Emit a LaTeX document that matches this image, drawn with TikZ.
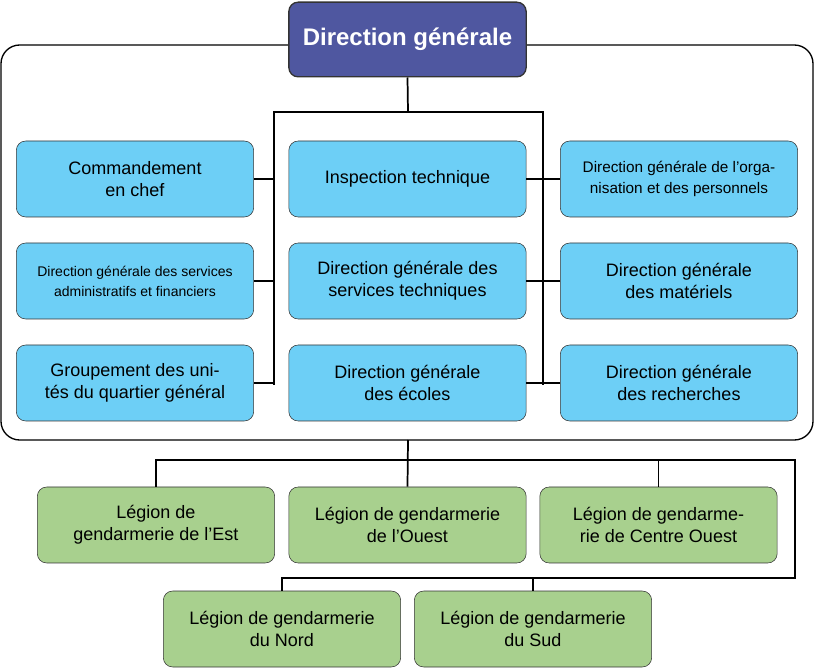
\documentclass[tikz,border=0pt]{standalone}
\usepackage{fontspec}
\setmainfont{Liberation Sans}
\usetikzlibrary{positioning,calc}
\definecolor{topblue}{HTML}{4F57A0}
\definecolor{boxblue}{HTML}{6DCFF6}
\definecolor{boxgreen}{HTML}{A8D08E}
\tikzset{
  unit/.style={draw=black!80, rounded corners=7pt, minimum width=178pt, minimum height=57pt,
    align=center, inner sep=2pt, font=\fontsize{13.5}{16.5}\selectfont},
  dir/.style={unit, fill=boxblue},
  leg/.style={unit, fill=boxgreen},
  link/.style={line width=1.3pt}
}
\begin{document}
\begin{tikzpicture}[x=0.75pt,y=-0.75pt]
            \useasboundingbox (0,0) rectangle (815,670);
            % Frame
            \draw[line width=1pt, rounded corners=14pt] (1,45) rectangle (813,440);
            \node[draw=black!80, line width=1pt, fill=topblue, rounded corners=7pt, minimum width=178pt,
              minimum height=56pt, text=white, font=\fontsize{18}{21}\bfseries] (DG) at (407.5,39.5) {Direction générale};

            % Directions
            \node[dir] (CC) at (135,179) {Commandement\\en chef};
            \node[dir, font=\fontsize{10.5}{15}\selectfont] (SAF) at (135,281) {Direction générale des services\\administratifs et financiers};
            \node[dir] (GQG) at (135,383) {Groupement des uni-\\tés du quartier général};
            \node[dir] (IT) at (407.5,179) {Inspection technique};
            \node[dir] (ST) at (407.5,281) {Direction générale des\\services techniques};
            \node[dir] (EC) at (407.5,383) {Direction générale\\des écoles};
            \node[dir, font=\fontsize{11.5}{16}\selectfont] (OP) at (679,179) {Direction générale de l’orga-\\nisation et des personnels};
            \node[dir] (MAT) at (679,281) {Direction générale\\des matériels};
            \node[dir] (REC) at (679,383) {Direction générale\\des recherches};

            % Legions
            \node[leg] (EST) at (156,525) {Légion de\\gendarmerie de l’Est};
            \node[leg] (OUE) at (407.5,525) {Légion de gendarmerie\\de l’Ouest};
            \node[leg] (CO) at (658.5,525) {Légion de gendarme-\\rie de Centre Ouest};
            \node[leg] (NOR) at (282,629) {Légion de gendarmerie\\du Nord};
            \node[leg] (SUD) at (533,629) {Légion de gendarmerie\\du Sud};

            % Links inside frame
            \coordinate (J) at (408,112);
            \draw[link] (DG.south) -- (J);
            \draw[link] (274,385) -- (274,112) -- (543,112) -- (543,385);
            \foreach \n in {CC,SAF,GQG} \draw[link] (\n.east) -- (274,0 |- \n.east);
            \foreach \n in {OP,MAT,REC} \draw[link] (\n.west) -- (543,0 |- \n.west);
            \foreach \n in {IT,ST,EC} \draw[link] (\n.east) -- (543,0 |- \n.east);

            % Links to legions
            \draw[link] (408,440) -- (OUE.north);
            \draw[link] (EST.north) -- (EST.north |- 0,460) -- (795,460) -- (795,578) -- (NOR.north |- 0,578) -- (NOR.north);
            \draw[link] (CO.north) -- (CO.north |- 0,460);
            \draw[link] (SUD.north) -- (SUD.north |- 0,578);
        \end{tikzpicture}
\end{document}
